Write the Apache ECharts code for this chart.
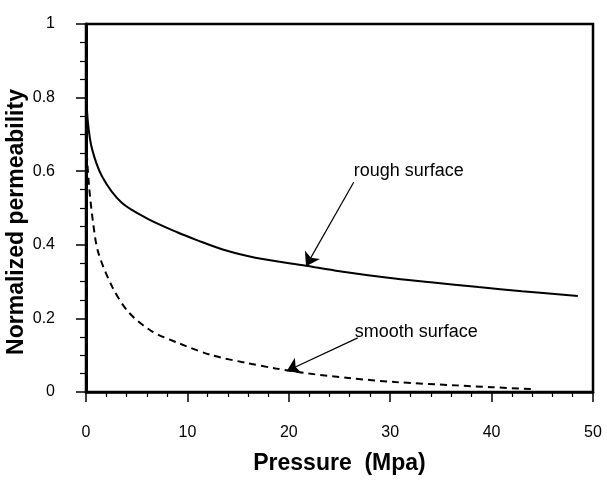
<!DOCTYPE html>
<html>
<head>
<meta charset="utf-8">
<script src="https://cdn.jsdelivr.net/npm/echarts@6/dist/echarts.min.js"></script>
<style>
  html, body { margin: 0; padding: 0; background: #fff; }
  #chart { width: 607px; height: 482px; }
</style>
</head>
<body>
<div id="chart"></div>
<script>
// values
const roughX = [0, 0.2, 0.6, 1.6, 3.5, 6, 9, 11, 13.4, 16.7, 21.7, 25, 29.6, 34, 38.7, 43, 48.5];
const roughY = [0.82, 0.73, 0.66, 0.585, 0.515, 0.472, 0.434, 0.412, 0.388, 0.365, 0.343, 0.328, 0.311, 0.298, 0.285, 0.274, 0.261];

const smoothX = [0, 0.3, 0.7, 1.2, 2.6, 4.2, 6.5, 9.2, 12.4, 15.8, 18.7, 22, 25.9, 30.5, 36.5, 40, 44];
const smoothY = [0.68, 0.56, 0.46, 0.38, 0.285, 0.217, 0.165, 0.132, 0.1, 0.079, 0.064, 0.05, 0.038, 0.027, 0.018, 0.013, 0.008];

const xTicks = { min: 0, max: 50, step: 10 };
const yTicks = { min: 0, max: 1, step: 0.2 };

// annotation text anchors and arrows, in data units
const roughNote = { text: "rough surface", at: [26.4, 0.6], from: [26.4, 0.57], to: [21.7, 0.342] };
const smoothNote = { text: "smooth surface", at: [26.5, 0.163], from: [26.8, 0.147], to: [19.8, 0.057] };

const font = "'Liberation Sans', Arial, Helvetica, sans-serif";
const ink = "#000";

const chart = echarts.init(document.getElementById("chart"), null, { renderer: "canvas" });

const zip = (xs, ys) => xs.map((x, i) => [x, ys[i]]);

const arrow = (note) => ({
  silent: true,
  symbol: ["none", "arrow"],
  symbolSize: 13,
  label: { show: false },
  lineStyle: { color: ink, width: 1.2, type: "solid" },
  itemStyle: { color: ink },
  emphasis: { disabled: true },
  animation: false,
  data: [[{ coord: note.from }, { coord: note.to }]]
});

chart.setOption({
  animation: false,
  backgroundColor: "#fff",
  grid: {
    left: 86, right: 14, top: 24, bottom: 90,
    outerBoundsMode: "none",
    containLabel: false,
    show: true, borderColor: ink, borderWidth: 2.5, backgroundColor: "transparent"
  },
  xAxis: {
    type: "value",
    min: xTicks.min, max: xTicks.max, interval: xTicks.step,
    name: "Pressure  (Mpa)",
    nameLocation: "middle",
    nameGap: 60,
    nameMoveOverlap: false,
    nameTextStyle: { fontFamily: font, fontWeight: "bold", fontSize: 23, color: ink },
    axisLine: { show: true, onZero: false, lineStyle: { color: ink, width: 2.5 } },
    axisTick: { show: true, inside: false, length: 10, lineStyle: { color: ink, width: 1.5 } },
    minorTick: { show: true, splitNumber: 5, length: 5, lineStyle: { color: ink, width: 1.2 } },
    splitLine: { show: false },
    axisLabel: { margin: 33, fontFamily: font, fontSize: 16, color: ink }
  },
  yAxis: {
    type: "value",
    min: yTicks.min, max: yTicks.max, interval: yTicks.step,
    name: "Normalized permeability",
    nameLocation: "middle",
    nameGap: 58,
    nameMoveOverlap: false,
    nameTextStyle: { fontFamily: font, fontWeight: "bold", fontSize: 23, color: ink, padding: [0, 28, 0, 0] },
    axisLine: { show: true, onZero: false, lineStyle: { color: ink, width: 3 } },
    axisTick: { show: true, inside: false, length: 10, lineStyle: { color: ink, width: 1.5 } },
    minorTick: { show: true, splitNumber: 4, length: 6, lineStyle: { color: ink, width: 1.2 } },
    splitLine: { show: false },
    axisLabel: { margin: 31, fontFamily: font, fontSize: 16, color: ink }
  },
  series: [
    {
      name: "rough surface",
      type: "line",
      data: zip(roughX, roughY),
      smooth: 0.3,
      showSymbol: false,
      lineStyle: { color: ink, width: 2 },
      emphasis: { disabled: true },
      markLine: arrow(roughNote)
    },
    {
      name: "smooth surface",
      type: "line",
      data: zip(smoothX, smoothY),
      smooth: 0.3,
      showSymbol: false,
      lineStyle: { color: ink, width: 2, type: [7, 5] },
      emphasis: { disabled: true },
      markLine: arrow(smoothNote)
    }
  ]
});

// place the two notes from their data anchors
const notes = [roughNote, smoothNote].map((n) => {
  const p = chart.convertToPixel({ gridIndex: 0 }, n.at);
  return {
    type: "text",
    x: p[0], y: p[1],
    style: {
      text: n.text, fill: ink, font: "18px " + font,
      textAlign: "left", textVerticalAlign: "middle"
    },
    silent: true
  };
});
chart.setOption({ graphic: notes });
</script>
</body>
</html>
